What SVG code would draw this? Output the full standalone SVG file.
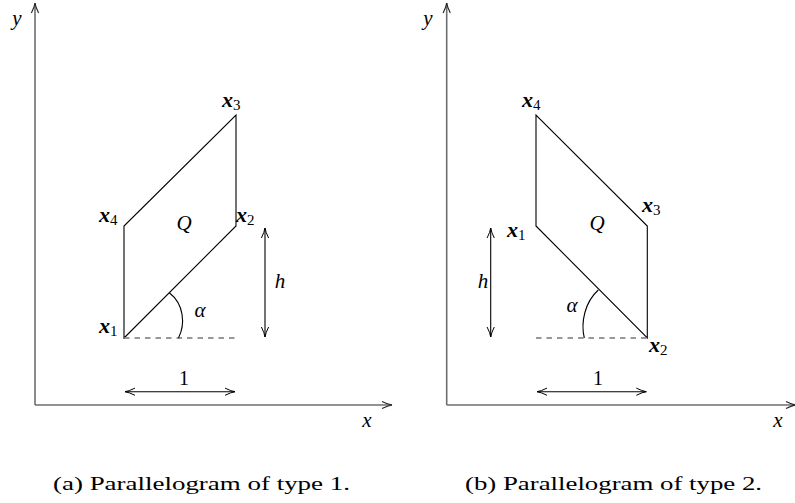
<svg xmlns="http://www.w3.org/2000/svg" width="795" height="503" viewBox="0 0 795 503">
<style>
.axis{stroke:#6e6e6e;stroke-width:1.6;fill:none}
.edge{stroke:#000;stroke-width:1.1;fill:none}
.dash{stroke:#777;stroke-width:1.3;stroke-dasharray:5.5 5;fill:none}
.dim{stroke:#000;stroke-width:1.1;fill:none}
.m{font-family:"Liberation Serif",serif;font-style:italic;font-size:21px;fill:#000}
.v{font-family:"Liberation Serif",serif;font-style:italic;font-weight:bold;font-size:22px;fill:#000}
.sub{font-style:normal;font-weight:normal;font-size:15px}
.n{font-family:"Liberation Serif",serif;font-size:20px;fill:#000}
.cap{font-family:"Liberation Serif",serif;font-size:19px;fill:#000}
</style>
<defs>
<marker id="ah" markerUnits="userSpaceOnUse" markerWidth="14" markerHeight="10" viewBox="-12 -5 14 10" refX="0" refY="0" orient="auto-start-reverse">
<path d="M-10,-3.6 Q-4,-0.6 0,0 Q-4,0.6 -10,3.6" fill="none" stroke="#000" stroke-width="1"/>
</marker>
<marker id="ax" markerUnits="userSpaceOnUse" markerWidth="14" markerHeight="10" viewBox="-12 -5 14 10" refX="0" refY="0" orient="auto">
<path d="M-10,-3.6 Q-4,-0.6 0,0 Q-4,0.6 -10,3.6" fill="none" stroke="#222" stroke-width="1.1"/>
</marker>
</defs>

<g id="panel-a">
  <g id="a-axes">
    <line class="axis" x1="35" y1="405" x2="35" y2="3" marker-end="url(#ax)"/>
    <line class="axis" x1="35" y1="405" x2="392" y2="405" marker-end="url(#ax)"/>
    <text class="m" x="17" y="25" text-anchor="middle">y</text>
    <text class="m" x="367" y="427" text-anchor="middle">x</text>
  </g>
  <g id="a-Q">
    <path class="edge" d="M124,338 L236,226 L236,115 L124,226 Z"/>
    <text class="m" x="184" y="230" text-anchor="middle">Q</text>
  </g>
  <g id="a-x1"><text class="v" x="99" y="333">x<tspan class="sub" dy="3">1</tspan></text></g>
  <g id="a-x2"><text class="v" x="236" y="222">x<tspan class="sub" dy="3">2</tspan></text></g>
  <g id="a-x3"><text class="v" x="222" y="107">x<tspan class="sub" dy="3">3</tspan></text></g>
  <g id="a-x4"><text class="v" x="99" y="222">x<tspan class="sub" dy="3">4</tspan></text></g>
  <g id="a-connectors">
    <line class="dash" x1="124" y1="338" x2="236" y2="338"/>
    <path class="edge" d="M178.5,338 C185.5,324 184,304 169.3,292.7"/>
    <line class="dim" x1="265" y1="228" x2="265" y2="337" marker-start="url(#ah)" marker-end="url(#ah)"/>
    <line class="dim" x1="125" y1="391.7" x2="235" y2="391.7" marker-start="url(#ah)" marker-end="url(#ah)"/>
  </g>
  <text class="m" x="200" y="317" text-anchor="middle">α</text>
  <text class="m" x="280" y="288" text-anchor="middle">h</text>
  <text class="n" x="184" y="385" text-anchor="middle">1</text>
  <text class="cap" x="53" y="490" textLength="297" lengthAdjust="spacingAndGlyphs">(a) Parallelogram of type 1.</text>
</g>

<g id="panel-b">
  <g id="b-axes">
    <line class="axis" x1="446.7" y1="405" x2="446.7" y2="3" marker-end="url(#ax)"/>
    <line class="axis" x1="446.7" y1="405" x2="796" y2="405" marker-end="url(#ax)"/>
    <text class="m" x="428" y="25" text-anchor="middle">y</text>
    <text class="m" x="778" y="427" text-anchor="middle">x</text>
  </g>
  <g id="b-Q">
    <path class="edge" d="M536,226 L647.3,338 L647.3,226 L536,115 Z"/>
    <text class="m" x="597" y="230" text-anchor="middle">Q</text>
  </g>
  <g id="b-x1"><text class="v" x="507" y="237">x<tspan class="sub" dy="3">1</tspan></text></g>
  <g id="b-x2"><text class="v" x="649" y="352">x<tspan class="sub" dy="3">2</tspan></text></g>
  <g id="b-x3"><text class="v" x="642" y="212">x<tspan class="sub" dy="3">3</tspan></text></g>
  <g id="b-x4"><text class="v" x="522" y="107">x<tspan class="sub" dy="3">4</tspan></text></g>
  <g id="b-connectors">
    <line class="dash" x1="536" y1="338" x2="647.3" y2="338"/>
    <path class="edge" d="M584.3,338 C580.5,322 585,302 598.3,290"/>
    <line class="dim" x1="490.7" y1="228" x2="490.7" y2="337" marker-start="url(#ah)" marker-end="url(#ah)"/>
    <line class="dim" x1="537" y1="391.7" x2="646.3" y2="391.7" marker-start="url(#ah)" marker-end="url(#ah)"/>
  </g>
  <text class="m" x="572" y="312" text-anchor="middle">α</text>
  <text class="m" x="483" y="288" text-anchor="middle">h</text>
  <text class="n" x="598" y="385" text-anchor="middle">1</text>
  <text class="cap" x="465" y="490" textLength="297" lengthAdjust="spacingAndGlyphs">(b) Parallelogram of type 2.</text>
</g>
</svg>
